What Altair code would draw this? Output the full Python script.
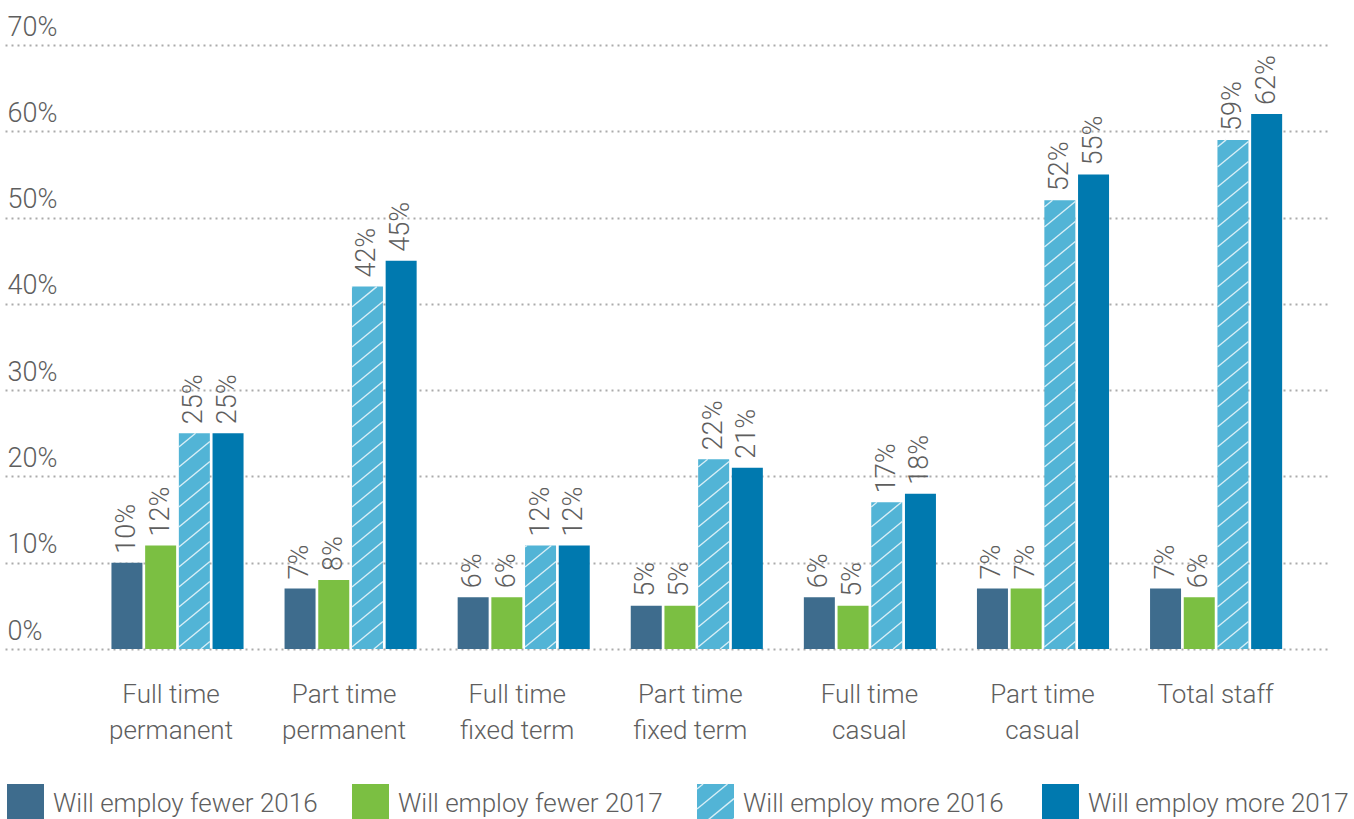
import json

import altair as alt
import pandas as pd

# ---- data -------------------------------------------------------------
categories = [
    "Full time permanent",
    "Part time permanent",
    "Full time fixed term",
    "Part time fixed term",
    "Full time casual",
    "Part time casual",
    "Total staff",
]
category_lines = [
    ["Full time", "permanent"],
    ["Part time", "permanent"],
    ["Full time", "fixed term"],
    ["Part time", "fixed term"],
    ["Full time", "casual"],
    ["Part time", "casual"],
    ["Total staff"],
]
series = [
    "Will employ fewer 2016",
    "Will employ fewer 2017",
    "Will employ more 2016",
    "Will employ more 2017",
]
fewer_2016 = [10, 7, 6, 5, 6, 7, 7]
fewer_2017 = [12, 8, 6, 5, 5, 7, 6]
more_2016 = [25, 42, 12, 22, 17, 52, 59]
more_2017 = [25, 45, 12, 21, 18, 55, 62]
y_ticks = [0, 10, 20, 30, 40, 50, 60, 70]

# ---- style / layout ----------------------------------------------------
colors = ["#3e6c8d", "#7bbf42", "#52b4d6", "#0079af"]
hatched = [False, False, True, False]
FONT = "Roboto"
WEIGHT = 300
TEXT_COLOR = "#5e5e5e"

W, H = 1322, 604          # plot area
LEFT, TOP = 5, 45         # plot position on the page
GROUP_STEP = 173.1        # px between group centres
FIRST_CENTER = 172.5      # px from plot left to first group centre
BAR_STEP = 33.7
BAR_W = 31.0
Y_MAX = 70
PX_Y = H / Y_MAX          # px per percentage point
HATCH_PERIOD = 20.0
HATCH_SLOPE = 0.82
HATCH_PHASE = 2.0

x_domain = [-FIRST_CENTER / GROUP_STEP, (W - FIRST_CENTER) / GROUP_STEP]


def px_x(px_abs):
    """page x pixel -> x data unit"""
    return (px_abs - LEFT - FIRST_CENTER) / GROUP_STEP


def px_y(px_abs):
    """page y pixel -> y data unit"""
    return (TOP + H - px_abs) / PX_Y


def hatch_segments(x0, y0, width_px, height_px, phase=HATCH_PHASE):
    """rising '/' lines clipped to a rectangle, returned in data units"""
    segs = []
    b = phase
    while b > -HATCH_SLOPE * width_px:
        b -= HATCH_PERIOD
    b += HATCH_PERIOD
    while b < height_px:
        u_lo = max(0.0, -b / HATCH_SLOPE)
        u_hi = min(width_px, (height_px - b) / HATCH_SLOPE)
        if u_hi - u_lo > 0.3:
            segs.append({
                "hx0": x0 + u_lo / GROUP_STEP,
                "hx1": x0 + u_hi / GROUP_STEP,
                "hy0": y0 + (b + HATCH_SLOPE * u_lo) / PX_Y,
                "hy1": y0 + (b + HATCH_SLOPE * u_hi) / PX_Y,
            })
        b += HATCH_PERIOD
    return segs


values_by_series = [fewer_2016, fewer_2017, more_2016, more_2017]

bar_rows, hatch_rows = [], []
for i, cat in enumerate(categories):
    for j, s in enumerate(series):
        v = values_by_series[j][i]
        centre = i + (j - 1.5) * BAR_STEP / GROUP_STEP
        x0 = centre - BAR_W / 2 / GROUP_STEP
        x1 = centre + BAR_W / 2 / GROUP_STEP
        bar_rows.append({"category": cat, "series": s, "value": v,
                         "xc": centre, "x0": x0, "x1": x1,
                         "label": f"{v}%"})
        if hatched[j]:
            hatch_rows += hatch_segments(x0, 0.0, BAR_W, v * PX_Y)

bars_df = pd.DataFrame(bar_rows)
hatch_df = pd.DataFrame(hatch_rows)

# legend row along the bottom of the page
LEG_LEFT, LEG_STEP, LEG_SIZE = 7, 345.0, 37
LEG_TOP, LEG_TEXT_GAP, LEG_BASELINE = 784, 46, 812
legend_rows, legend_hatch = [], []
for k, s in enumerate(series):
    left_px = LEG_LEFT + k * LEG_STEP
    legend_rows.append({
        "series": s,
        "lx0": px_x(left_px), "lx1": px_x(left_px + LEG_SIZE),
        "ly0": px_y(LEG_TOP + LEG_SIZE), "ly1": px_y(LEG_TOP),
        "tx": px_x(left_px + LEG_TEXT_GAP), "ty": px_y(LEG_BASELINE),
    })
    if hatched[k]:
        legend_hatch += hatch_segments(
            px_x(left_px), px_y(LEG_TOP + LEG_SIZE),
            LEG_SIZE, LEG_SIZE, phase=-8.0)
legend_df = pd.DataFrame(legend_rows)
legend_hatch_df = pd.DataFrame(legend_hatch)

color_scale = alt.Scale(domain=series, range=colors)
x_scale = alt.Scale(domain=x_domain, nice=False, zero=False)
y_scale = alt.Scale(domain=[0, Y_MAX], nice=False)

x_label_expr = json.dumps(category_lines) + "[round(datum.value)]"

# one axis definition shared by every layer so the merged axes stay intact
x_axis = alt.Axis(
    values=list(range(len(categories))),
    labelExpr=x_label_expr,
    title=None, grid=False, domain=False, ticks=False, tickSize=0,
    labelFont=FONT, labelFontWeight=WEIGHT, labelFontSize=26,
    labelColor=TEXT_COLOR,
    labelAlign="center", labelBaseline="alphabetic",
    labelPadding=53, labelLineHeight=36,
    labelOffset={"condition": {"test": "datum.value < 3.5", "value": -7},
                 "value": -1},
    labelFlush=False, labelOverlap=False)
y_axis = alt.Axis(
    values=y_ticks,
    labelExpr="datum.value + '%'",
    title=None, grid=True, gridDash=[2, 4], gridColor="#ababab",
    gridWidth=2, domain=False, ticks=False, tickSize=0,
    labelFont=FONT, labelFontWeight=WEIGHT, labelFontSize=27,
    labelColor=TEXT_COLOR,
    labelAlign="left", labelBaseline="alphabetic",
    labelPadding=-2, labelOffset=-10, labelOverlap=False)

# ---- layers -------------------------------------------------------------
bars = alt.Chart(bars_df).mark_bar(cornerRadius=0).encode(
    x=alt.X("x0:Q", scale=x_scale, axis=x_axis),
    x2="x1:Q",
    y=alt.Y("value:Q", scale=y_scale, axis=y_axis),
    y2=alt.Y2(datum=0),
    color=alt.Color("series:N", scale=color_scale, legend=None),
)

hatch = alt.Chart(hatch_df).mark_rule(
    color="#dff1f8", strokeWidth=1.4, opacity=0.95
).encode(
    x=alt.X("hx0:Q", scale=x_scale, axis=x_axis),
    x2="hx1:Q",
    y=alt.Y("hy0:Q", scale=y_scale, axis=y_axis),
    y2="hy1:Q",
)

value_labels = alt.Chart(bars_df).mark_text(
    angle=270, align="left", baseline="middle", dx=9,
    font=FONT, fontWeight=WEIGHT, fontSize=27, color=TEXT_COLOR,
).encode(
    x=alt.X("xc:Q", scale=x_scale, axis=x_axis),
    y=alt.Y("value:Q", scale=y_scale, axis=y_axis),
    text="label:N",
)

legend_boxes = alt.Chart(legend_df).mark_bar(clip=False).encode(
    x=alt.X("lx0:Q", scale=x_scale, axis=x_axis),
    x2="lx1:Q",
    y=alt.Y("ly0:Q", scale=y_scale, axis=y_axis),
    y2="ly1:Q",
    color=alt.Color("series:N", scale=color_scale, legend=None),
)

legend_lines = alt.Chart(legend_hatch_df).mark_rule(
    color="#dff1f8", strokeWidth=1.4, opacity=0.95, clip=False
).encode(
    x=alt.X("hx0:Q", scale=x_scale, axis=x_axis),
    x2="hx1:Q",
    y=alt.Y("hy0:Q", scale=y_scale, axis=y_axis),
    y2="hy1:Q",
)

legend_text = alt.Chart(legend_df).mark_text(
    align="left", baseline="alphabetic",
    font=FONT, fontWeight=WEIGHT, fontSize=26, color=TEXT_COLOR, clip=False,
).encode(
    x=alt.X("tx:Q", scale=x_scale, axis=x_axis),
    y=alt.Y("ty:Q", scale=y_scale, axis=y_axis),
    text="series:N",
)

chart = alt.layer(
    bars, hatch, value_labels, legend_boxes, legend_lines, legend_text
).properties(
    width=W,
    height=H,
    autosize=alt.AutoSizeParams(type="none"),
    padding={"left": LEFT, "top": TOP, "right": 1354 - LEFT - W,
             "bottom": 819 - TOP - H},
    background="white",
).configure_view(stroke=None)

chart.save("out.html", embed_options={"renderer": "svg", "actions": False})
